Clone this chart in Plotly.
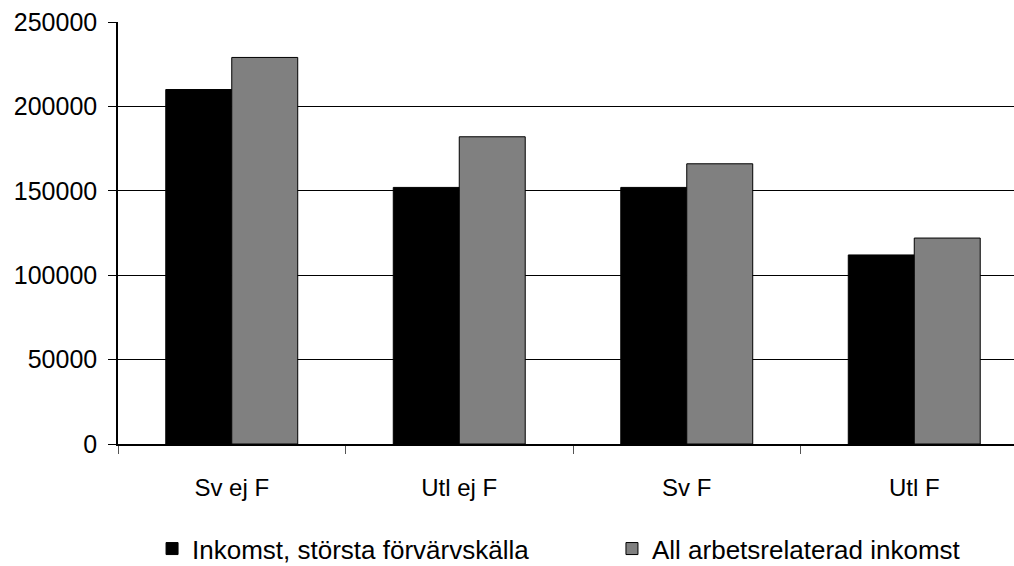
import plotly.graph_objects as go

categories = ["Sv ej F", "Utl ej F", "Sv F", "Utl F"]
series1_name = "Inkomst, största förvärvskälla"
series1 = [210000, 152000, 152000, 112000]
series2_name = "All arbetsrelaterad inkomst"
series2 = [229000, 182000, 166000, 122000]
y_ticks = [0, 50000, 100000, 150000, 200000, 250000]

FONT = "Liberation Sans, Arial, sans-serif"

fig = go.Figure()
fig.add_trace(go.Bar(x=categories, y=series1, name=series1_name, legend="legend",
                     marker=dict(color="#000000", line=dict(color="#000000", width=1))))
fig.add_trace(go.Bar(x=categories, y=series2, name=series2_name, legend="legend2",
                     marker=dict(color="#808080", line=dict(color="#000000", width=1))))

W, H = 1014, 566
L, R, T, B = 118, 0, 22, 122
plot_w = W - L - R
cat_px = 227.5
x_hi = -0.5 + plot_w / cat_px

leg_common = dict(orientation="h", xanchor="left", yanchor="middle", y=-0.248,
                  font=dict(family=FONT, size=26, color="#000000"),
                  bgcolor="rgba(0,0,0,0)", borderwidth=0)

fig.update_layout(
    width=W, height=H,
    margin=dict(l=L, r=R, t=T, b=B, pad=0, autoexpand=False),
    paper_bgcolor="white", plot_bgcolor="white",
    font=dict(family=FONT, size=24, color="#000000"),
    barmode="group", bargap=0.42, bargroupgap=0,
    showlegend=True,
    legend=dict(x=0.038, **leg_common),
    legend2=dict(x=0.5513, **leg_common),
    xaxis=dict(type="category", range=[-0.5, x_hi], showgrid=False, automargin=False,
               showline=True, linecolor="#000000", linewidth=1.5,
               ticks="outside", tickson="boundaries", ticklen=8, tickcolor="#555555",
               ticklabelstandoff=21, tickfont=dict(family=FONT, size=24)),
    yaxis=dict(range=[0, 250000], tickvals=y_ticks, ticktext=[str(v) for v in y_ticks],
               showgrid=True, gridcolor="#000000", gridwidth=1, automargin=False,
               showline=True, linecolor="#000000", linewidth=1.5,
               ticks="outside", ticklen=8, tickcolor="#000000",
               ticklabelstandoff=6, zeroline=False,
               tickfont=dict(family=FONT, size=25)),
)

fig.write_html("out.html", config={"displayModeBar": False},
               post_script="document.body.style.margin='0px';document.body.style.overflow='hidden';")
